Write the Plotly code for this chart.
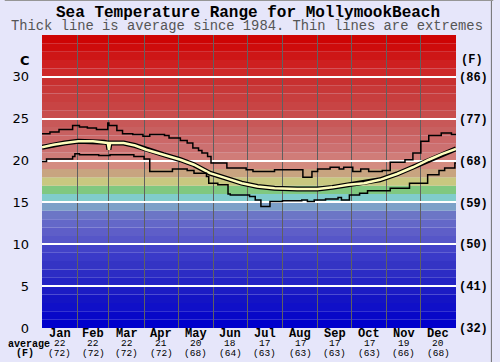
import plotly.graph_objects as go

# ---------------- data ----------------
months = ["Jan", "Feb", "Mar", "Apr", "May", "Jun", "Jul", "Aug", "Sep", "Oct", "Nov", "Dec"]
month_days = [31, 28, 31, 30, 31, 30, 31, 31, 30, 31, 30, 31]
month_avg_c = [22, 22, 22, 21, 20, 18, 17, 17, 17, 17, 19, 20]
month_avg_f = [72, 72, 72, 72, 68, 64, 63, 63, 63, 63, 66, 68]

c_ticks = [0, 5, 10, 15, 20, 25, 30]
f_tick_labels = ["(32)", "(41)", "(50)", "(59)", "(68)", "(77)", "(86)"]

# upper extreme (step line), day of year -> deg C
upper_days = [0, 7, 15, 27, 33, 40, 48, 58, 59, 66, 71, 80, 89, 95, 108, 112, 122, 128, 133, 138,
              141, 146, 149, 163, 180, 186, 205, 230, 238, 243, 254, 262, 266, 274, 281, 288, 300,
              307, 320, 327, 334, 341, 352, 361, 365]
upper_temps = [23.2, 23.4, 23.7, 24.2, 24.0, 23.9, 23.7, 24.5, 24.2, 23.6, 23.2, 23.1, 22.9, 23.1, 23.0,
               22.7, 22.4, 22.1, 21.5, 21.2, 20.9, 20.5, 19.7, 19.1, 18.9, 18.7, 18.9, 18.0, 18.7, 19.0,
               19.2, 19.0, 19.2, 18.7, 19.0, 18.7, 18.8, 19.8, 20.1, 20.9, 22.3, 23.0, 23.3, 23.1, 23.1]

# average since 1984
avg_days = [0, 10, 20, 32, 45, 55, 58, 59, 60, 72, 82, 92, 107, 122, 134, 148, 162, 176, 190, 205,
            225, 243, 256, 270, 284, 298, 313, 327, 341, 353, 365]
avg_temps = [21.6, 21.9, 22.1, 22.3, 22.3, 22.2, 22.1, 21.3, 22.1, 22.1, 21.8, 21.3, 20.7, 20.1, 19.5,
             18.5, 17.9, 17.3, 16.9, 16.7, 16.6, 16.6, 16.8, 17.1, 17.3, 17.7, 18.4, 19.2, 20.1, 20.8, 21.4]

# lower extreme (step line)
lower_days = [0, 4, 27, 29, 33, 50, 60, 81, 90, 95, 115, 128, 134, 145, 147, 155, 164, 166, 183, 188,
              193, 201, 212, 229, 234, 240, 250, 261, 264, 271, 280, 287, 307, 324, 340, 350, 355, 364, 365]
lower_temps = [19.9, 20.2, 20.5, 20.8, 20.7, 20.6, 20.7, 20.5, 20.2, 18.7, 19.0, 18.8, 18.5, 18.1, 17.3,
               17.1, 16.0, 15.9, 15.7, 15.3, 14.5, 15.1, 15.2, 15.3, 15.1, 15.3, 15.4, 15.6, 15.3, 15.9,
               16.1, 16.4, 16.7, 17.3, 18.3, 18.8, 19.1, 19.7, 19.7]

# background colour bands, one per degree C from 0 upward
band_colors = [
    "rgb(0,0,204)", "rgb(8,8,200)", "rgb(16,16,200)", "rgb(20,20,196)", "rgb(28,28,196)",
    "rgb(36,36,196)", "rgb(44,44,196)", "rgb(52,52,196)", "rgb(58,58,200)", "rgb(66,66,200)",
    "rgb(86,86,200)", "rgb(94,94,200)", "rgb(100,104,200)", "rgb(108,118,198)", "rgb(124,160,200)",
    "rgb(128,204,204)", "rgb(128,200,128)", "rgb(200,200,128)", "rgb(200,164,128)", "rgb(212,140,128)",
    "rgb(208,124,120)", "rgb(204,112,112)", "rgb(204,104,104)", "rgb(200,96,96)", "rgb(200,88,88)",
    "rgb(200,76,76)", "rgb(200,68,68)", "rgb(200,62,62)", "rgb(200,56,56)", "rgb(200,48,48)",
    "rgb(206,40,40)", "rgb(206,32,32)", "rgb(206,22,22)", "rgb(206,12,12)", "rgb(206,4,4)",
]

title_text = "Sea Temperature Range for MollymookBeach"
subtitle_text = "Thick line is average since 1984. Thin lines are extremes"

# ---------------- figure ----------------
month_edges = [0]
for d in month_days:
    month_edges.append(month_edges[-1] + d)
month_mid = [(month_edges[i] + month_edges[i + 1]) / 2 for i in range(12)]

fig = go.Figure()

fig.add_trace(go.Scatter(x=upper_days, y=upper_temps, mode="lines", line=dict(color="black", width=1.5, shape="hv"),
                         hoverinfo="skip"))
fig.add_trace(go.Scatter(x=lower_days, y=lower_temps, mode="lines", line=dict(color="black", width=1.5, shape="hv"),
                         hoverinfo="skip", yaxis="y2"))
fig.add_trace(go.Scatter(x=avg_days, y=avg_temps, mode="lines", line=dict(color="black", width=5),
                         hoverinfo="skip"))
fig.add_trace(go.Scatter(x=avg_days, y=avg_temps, mode="lines", line=dict(color="rgb(255,255,190)", width=2.5),
                         hoverinfo="skip"))

shapes = []
for i, col in enumerate(band_colors):
    shapes.append(dict(type="rect", xref="paper", yref="y", x0=0, x1=1, y0=i, y1=i + 1,
                       fillcolor=col, line=dict(width=0), layer="below"))
# outer frame lines (top and right edge of the image)
shapes.append(dict(type="line", xref="paper", yref="paper", x0=1.0855, x1=1.0855, y0=-0.12, y1=1.125,
                   line=dict(color="rgb(110,110,110)", width=1)))
shapes.append(dict(type="line", xref="paper", yref="paper", x0=-0.09, x1=1.09, y0=1.1177, y1=1.1177,
                   line=dict(color="rgb(150,150,150)", width=1)))

mono = "Liberation Mono"
annotations = [
    dict(text="<b>" + title_text + "</b>", xref="paper", x=0.497, yref="paper", y=1, yshift=22.5,
         showarrow=False, font=dict(family=mono, size=16, color="black")),
    dict(text=subtitle_text, xref="paper", x=0.494, yref="paper", y=1, yshift=9,
         showarrow=False, font=dict(family=mono, size=13.8, color="rgb(85,85,85)")),
    dict(text="<b>C</b>", xref="paper", x=-0.042, yref="y", y=32, showarrow=False,
         font=dict(family="DejaVu Sans", size=13, color="black")),
    dict(text="<b>(F)</b>", xref="paper", x=1.0375, yref="y", y=32, showarrow=False,
         font=dict(family=mono, size=12, color="black")),
    dict(text="<b>average</b>", xref="paper", x=-0.032, yref="paper", y=0, yshift=-16, showarrow=False,
         font=dict(family=mono, size=10, color="black")),
    dict(text="<b>(F)</b>", xref="paper", x=-0.042, yref="paper", y=0, yshift=-25, showarrow=False,
         font=dict(family=mono, size=10, color="black")),
]
for m, xm, c, f in zip(months, month_mid, month_avg_c, month_avg_f):
    annotations.append(dict(text="<b>" + m + "</b>", x=xm, xref="x", y=0, yref="paper", yshift=-6,
                            showarrow=False, font=dict(family=mono, size=12, color="black")))
    annotations.append(dict(text=str(c), x=xm, xref="x", y=0, yref="paper", yshift=-15.5,
                            showarrow=False, font=dict(family=mono, size=9.5, color="black")))
    annotations.append(dict(text="(" + str(f) + ")", x=xm, xref="x", y=0, yref="paper", yshift=-25,
                            showarrow=False, font=dict(family=mono, size=9.5, color="black")))
for a in annotations:
    a["yanchor"] = "middle"
    a["xanchor"] = "center"
    a["borderpad"] = 0

fig.update_layout(
    width=500, height=362,
    margin=dict(l=35, r=37, t=35, b=34),
    paper_bgcolor="rgb(230,230,250)",
    plot_bgcolor="rgb(230,230,250)",
    showlegend=False,
    xaxis=dict(range=[0, 365], tickvals=month_edges, showticklabels=False, ticks="",
               showgrid=True, gridcolor="rgb(96,96,96)", gridwidth=1, zeroline=False, showline=False,
               fixedrange=True),
    yaxis=dict(range=[0, 35], tickvals=c_ticks, ticktext=[str(v) for v in c_ticks],
               showgrid=True, gridcolor="white", gridwidth=2, zeroline=False, showline=False,
               tickfont=dict(family="DejaVu Sans", size=13, color="black"), ticks="",
               ticklabelstandoff=12),
    yaxis2=dict(range=[0, 35], overlaying="y", side="right", tickvals=c_ticks,
                ticktext=["<b>" + t + "</b>" for t in f_tick_labels],
                showgrid=False, zeroline=False, showline=False, ticks="",
                tickfont=dict(family=mono, size=12, color="black"), ticklabelstandoff=2),
    shapes=shapes,
    annotations=annotations,
)

fig.write_html("out.html", config={"displayModeBar": False},
               post_script="document.body.style.margin='0';document.body.style.overflow='hidden';")
